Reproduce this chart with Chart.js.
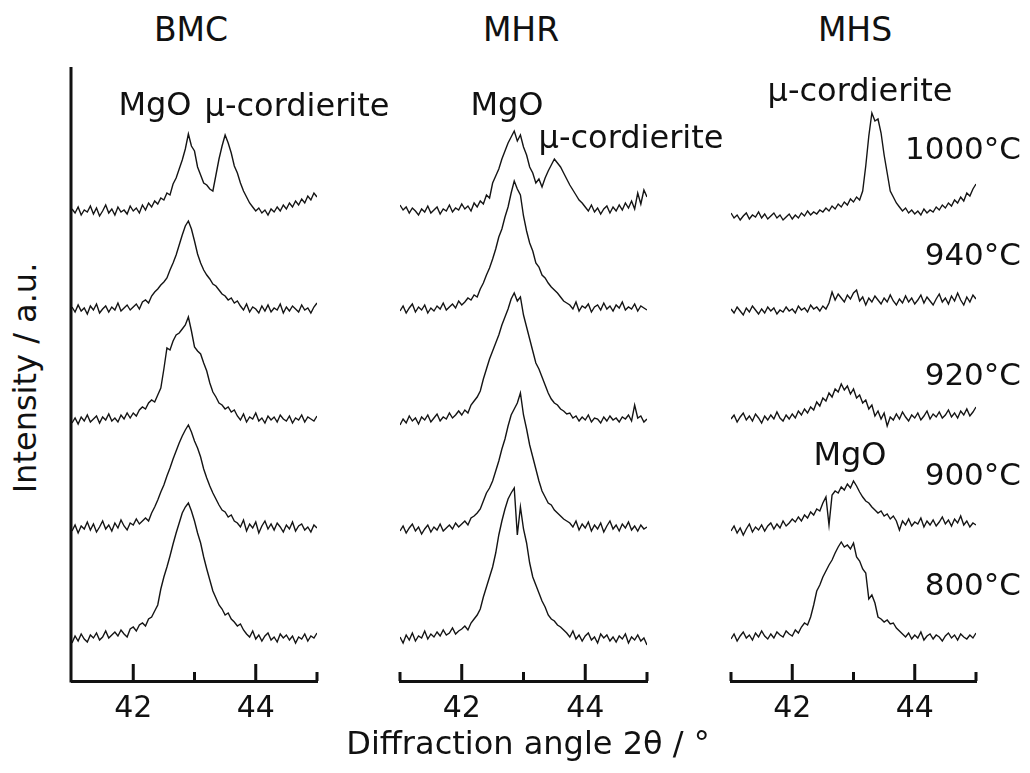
<!DOCTYPE html>
<html>
<head>
<meta charset="utf-8">
<title>XRD patterns BMC / MHR / MHS</title>
<script src="https://cdn.jsdelivr.net/npm/chart.js@4.4.0/dist/chart.umd.min.js"></script>
<style>
  body { margin: 0; background: #fff; }
  #wrap { position: relative; width: 1030px; height: 773px; overflow: hidden;
          font-family: "DejaVu Sans", sans-serif; color: #111; }
  canvas { position: absolute; }
  .lbl { position: absolute; white-space: nowrap; line-height: 1; z-index: 2; }
  .c { transform: translateX(-50%); }
</style>
</head>
<body>
<div id="wrap">
  <canvas id="bmc" width="265" height="680" style="left:62px;top:57px"></canvas>
  <canvas id="mhr" width="267" height="680" style="left:390px;top:57px"></canvas>
  <canvas id="mhs" width="265" height="680" style="left:721px;top:57px"></canvas>

  <div class="lbl c" style="left:191px;top:13px;font-size:33px">BMC</div>
  <div class="lbl c" style="left:521px;top:13px;font-size:33px">MHR</div>
  <div class="lbl c" style="left:855px;top:13px;font-size:33px">MHS</div>

  <div class="lbl c" style="left:155px;top:88px;font-size:32px">MgO</div>
  <div class="lbl c" style="left:297px;top:89px;font-size:32px">μ-cordierite</div>
  <div class="lbl c" style="left:507px;top:88px;font-size:32px">MgO</div>
  <div class="lbl c" style="left:631px;top:121px;font-size:32px">μ-cordierite</div>
  <div class="lbl c" style="left:860px;top:74px;font-size:32px">μ-cordierite</div>
  <div class="lbl c" style="left:850px;top:438px;font-size:32px">MgO</div>

  <div id="temps"></div>

  <div class="lbl c" style="left:528px;top:727px;font-size:32px">Diffraction angle 2θ / °</div>
  <div class="lbl" style="left:25px;top:378px;font-size:32px;transform:translate(-50%,-50%) rotate(-90deg)">Intensity / a.u.</div>
</div>

<script>
// 2theta grid (deg)
const angles = [
  41.00,41.05,41.10,41.15,41.20,41.25,41.30,41.35,41.40,41.45,
  41.50,41.55,41.60,41.65,41.70,41.75,41.80,41.85,41.90,41.95,
  42.00,42.05,42.10,42.15,42.20,42.25,42.30,42.35,42.40,42.45,
  42.50,42.55,42.60,42.65,42.70,42.75,42.80,42.85,42.90,42.95,
  43.00,43.05,43.10,43.15,43.20,43.25,43.30,43.35,43.40,43.45,
  43.50,43.55,43.60,43.65,43.70,43.75,43.80,43.85,43.90,43.95,
  44.00,44.05,44.10,44.15,44.20,44.25,44.30,44.35,44.40,44.45,
  44.50,44.55,44.60,44.65,44.70,44.75,44.80,44.85,44.90,44.95,
  45.00
];

const temperatures = ['1000°C', '940°C', '920°C', '900°C', '800°C'];
const majorTicks = [42, 44];

// intensities (a.u., traces already stacked), one array per temperature
const bmc1000 = [472,468,474,466,471,469,475,467,473,465,470,476,468,472,466,474,469,471,467,475,470,
  473,468,476,471,478,474,480,477,483,
  481,488,486,497,503,512,521,532,547,535,530,514,506,498,496,492,490,506,522,535,546,538,528,515,508,498,490,484,478,474,470,
  473,468,471,466,472,469,474,470,476,472,478,474,480,476,482,478,485,481,488,484];
const bmc940 = [374,369,376,370,373,367,375,371,377,368,372,375,369,374,371,378,370,373,376,371,374,377,372,379,
  381,378,385,389,392,396,399,403,411,418,426,436,446,455,460,452,440,427,418,411,406,402,397,395,391,387,385,381,383,378,380,
  375,371,377,369,374,372,368,375,370,376,369,373,371,377,368,374,370,375,372,369,376,371,373,368,374,378];
const bmc920 = [258,263,257,264,260,266,259,262,265,258,264,261,267,260,263,259,266,262,268,263,
  268,265,271,274,272,278,281,279,286,293,312,333,331,340,346,348,352,356,364,350,334,330,327,318,310,298,289,284,278,276,272,274,269,271,
  265,261,267,259,264,262,268,260,263,258,265,261,264,259,266,262,260,265,258,263,261,266,259,264,262,260,265];
const bmc900 = [150,156,148,155,152,159,151,157,149,154,160,152,156,150,158,153,161,155,151,158,156,162,157,160,
  163,160,168,174,181,189,196,205,213,222,230,238,245,251,256,249,240,233,224,212,203,195,188,182,176,171,169,164,166,160,
  158,154,161,150,157,153,159,148,155,160,152,157,151,158,154,149,156,152,159,150,155,157,151,154,149,156,153];
const bmc800 = [38,45,40,47,42,39,46,43,48,41,44,50,43,46,49,45,51,47,44,52,
  54,50,56,58,55,62,64,70,76,92,104,114,125,137,148,158,168,174,178,170,160,148,138,124,112,101,90,83,76,72,66,68,62,59,55,57,51,
  47,44,50,42,46,40,45,48,41,44,39,47,43,46,41,45,38,44,42,47,40,45,43,48];

const mhr1000 = [476,471,474,468,473,470,466,472,469,475,468,471,474,467,472,470,476,469,473,471,477,472,475,470,478,474,480,477,
  486,483,498,505,512,522,530,538,544,550,540,546,534,526,514,508,498,502,494,503,510,516,522,518,514,508,502,496,491,486,481,478,
  474,470,476,469,473,467,472,475,468,474,470,476,471,478,473,480,472,488,477,491,484];
const mhr940 = [370,375,368,373,377,369,374,371,376,368,373,370,375,372,378,371,374,377,373,380,376,379,383,381,
  386,384,392,398,406,413,422,432,444,452,464,474,488,500,492,486,465,450,438,430,418,414,406,403,398,394,391,388,384,380,378,
  376,372,379,370,375,373,377,369,374,376,371,378,372,375,370,376,373,379,371,374,372,377,370,375,373,371];
const mhr920 = [256,262,258,265,260,263,257,264,261,266,259,263,267,260,264,262,268,263,266,270,
  266,271,268,276,280,284,290,302,312,322,330,338,346,356,364,372,382,388,380,384,366,354,342,330,318,312,304,296,288,282,278,276,272,270,267,
  268,263,265,260,264,261,266,259,263,262,258,264,260,265,261,263,259,264,262,266,260,276,263,265,259,262];
const mhr900 = [150,155,148,153,157,150,154,147,152,156,149,154,151,157,150,153,156,152,158,154,157,160,156,163,
  165,168,172,180,188,193,200,210,220,232,242,255,266,272,278,288,266,252,236,224,212,200,190,184,178,176,171,168,165,162,160,
  158,154,160,151,157,153,159,150,156,152,158,149,155,160,152,156,150,157,153,159,151,155,150,156,152,154];
const mhr800 = [44,38,46,41,48,40,45,43,50,42,47,44,49,45,51,46,48,53,47,50,
  52,55,51,58,62,66,72,84,94,104,114,128,146,160,172,182,188,193,146,174,152,138,118,104,96,88,80,74,66,62,60,56,54,51,
  48,44,50,42,46,40,45,48,41,44,38,47,43,46,40,44,39,45,42,47,38,44,41,46,40,43,36];

const mhs1000 = [468,463,466,461,465,468,462,466,464,469,463,467,462,465,468,463,466,461,464,467,462,466,463,468,465,470,466,469,
  467,471,469,473,470,475,472,477,474,479,476,482,479,484,481,490,515,545,568,560,562,548,526,508,490,484,478,474,
  470,473,468,471,467,470,466,472,468,471,469,474,471,476,473,478,475,481,478,484,480,488,485,492,497];
const mhs940 = [372,368,374,370,366,373,369,375,371,367,372,368,374,370,373,367,371,369,374,370,372,368,375,371,373,369,376,372,374,370,
  375,372,378,389,381,387,383,379,386,382,388,391,380,384,376,383,379,385,381,377,
  383,379,386,380,376,382,378,385,379,383,377,381,386,378,384,380,376,382,387,379,383,377,385,380,388,381,376,384,379,386,382];
const mhs920 = [262,266,259,264,268,261,265,260,267,263,258,265,261,266,262,269,263,260,266,262,
  267,263,270,266,272,268,274,271,279,275,283,280,288,284,292,289,297,291,295,287,292,283,286,278,281,272,276,265,270,262,268,255,264,261,
  267,262,269,264,260,266,263,268,261,265,270,262,267,264,269,263,266,271,264,268,263,270,266,272,265,269,274];
const mhs900 = [150,155,148,153,146,152,157,149,154,151,156,150,155,158,152,157,153,160,155,158,162,159,
  164,160,166,163,169,166,172,170,178,184,156,186,190,188,194,191,197,193,200,195,189,184,180,178,174,171,168,170,165,167,162,165,160,151,
  160,156,162,155,159,157,163,154,160,156,161,155,159,164,157,161,155,162,158,165,156,160,154,158,156];
const mhs800 = [42,47,40,45,49,43,46,41,48,44,50,45,42,47,43,49,46,44,50,47,
  45,51,48,54,58,56,64,76,90,96,104,110,116,121,128,134,139,134,136,132,138,124,120,112,108,82,86,78,64,62,59,61,57,58,53,50,47,
  44,48,42,46,43,49,41,45,47,42,46,44,40,45,48,43,46,41,47,44,42,46,43,48];

// temperature labels on the right side
const tempTops = [133, 239, 359, 459, 569];
temperatures.forEach((t, i) => {
  const d = document.createElement('div');
  d.className = 'lbl';
  d.style.right = '9px';
  d.style.top = tempTops[i] + 'px';
  d.style.fontSize = '31px';
  d.textContent = t;
  document.getElementById('wrap').appendChild(d);
});

// inward tick marks + left axis line
const axisMarks = {
  id: 'axisMarks',
  afterDraw(chart, args, opts) {
    const ctx = chart.ctx;
    const area = chart.chartArea;
    const xs = chart.scales.x;
    ctx.save();
    ctx.strokeStyle = '#111';
    ctx.lineWidth = 3;
    ctx.beginPath();
    majorTicks.forEach(v => {
      const px = xs.getPixelForValue(v);
      ctx.moveTo(px, area.bottom);
      ctx.lineTo(px, area.bottom - 17);
    });
    opts.minor.forEach(v => {
      const px = xs.getPixelForValue(v);
      ctx.moveTo(px, area.bottom);
      ctx.lineTo(px, area.bottom - 9);
    });
    if (opts.yAxis) {
      ctx.moveTo(area.left - 1, area.top);
      ctx.lineTo(area.left - 1, area.bottom + 1.5);
    }
    ctx.stroke();
    ctx.restore();
  }
};

function makePanel(id, traces, minor, yAxis) {
  const datasets = traces.map(vals => ({
    data: angles.map((a, i) => ({ x: a, y: vals[i] })),
    borderColor: '#141414',
    borderWidth: 1.4,
    pointRadius: 0,
    fill: false,
    tension: 0
  }));
  new Chart(document.getElementById(id), {
    type: 'line',
    data: { datasets: datasets },
    plugins: [axisMarks],
    options: {
      responsive: false,
      animation: false,
      layout: { padding: { left: 10, right: 10, top: 10, bottom: 0 } },
      plugins: {
        legend: { display: false },
        tooltip: { enabled: false },
        axisMarks: { minor: minor, yAxis: yAxis }
      },
      scales: {
        x: {
          type: 'linear',
          min: 41,
          max: 45,
          grid: { display: false, drawTicks: false },
          border: { display: true, width: 3, color: '#111' },
          ticks: {
            stepSize: 1,
            autoSkip: false,
            maxRotation: 0,
            padding: 10,
            color: '#111',
            font: { family: 'DejaVu Sans', size: 30 },
            callback: v => majorTicks.includes(v) ? String(v) : ''
          }
        },
        y: { display: false, min: 0, max: 614 }
      }
    }
  });
}

makePanel('bmc', [bmc1000, bmc940, bmc920, bmc900, bmc800], [43, 45], true);
makePanel('mhr', [mhr1000, mhr940, mhr920, mhr900, mhr800], [41, 43, 45], false);
makePanel('mhs', [mhs1000, mhs940, mhs920, mhs900, mhs800], [41, 43, 45], false);
</script>
</body>
</html>
